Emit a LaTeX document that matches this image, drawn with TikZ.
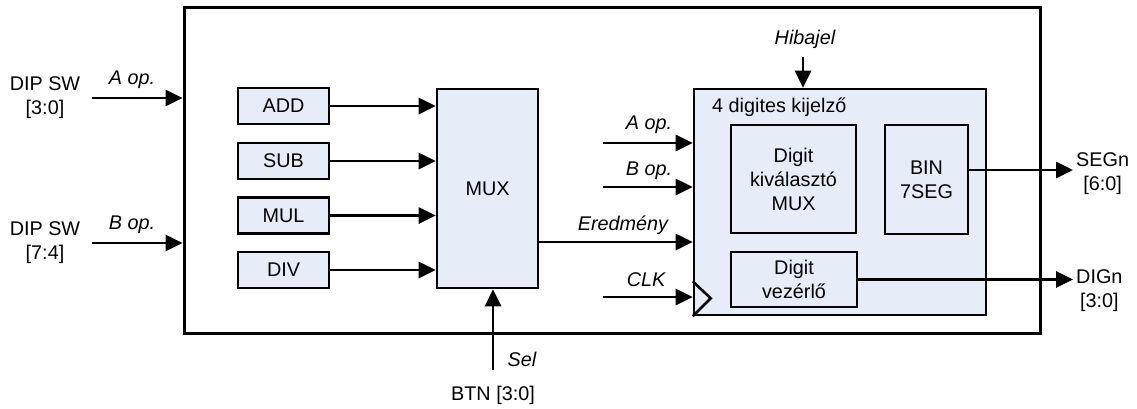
\documentclass[tikz,border=0pt]{standalone}
\usepackage{fontspec}
\setmainfont{Liberation Sans}
\usetikzlibrary{arrows.meta,calc}
\definecolor{blockfill}{RGB}{230,237,248}
\tikzset{
  blk/.style={draw=black, line width=2.6pt, fill=blockfill, inner sep=0pt, align=center, font=\fontsize{19.8}{24}\selectfont},
  txt/.style={inner sep=0pt, align=center, font=\fontsize{19.8}{24}\selectfont},
  itxt/.style={inner sep=0pt, align=center, font=\fontsize{19.8}{24}\selectfont\itshape},
  arr/.style={line width=2.8pt, -{Triangle[length=17pt,width=16pt]}},
}
\begin{document}
\begin{tikzpicture}[x=1pt,y=-1pt]
\useasboundingbox (0,0) rectangle (1137,408);
% outer box
\node[draw=black, line width=3pt, minimum width=856pt, minimum height=326pt, inner sep=0pt] (outer) at (612,170) {};
% left blocks
\node[blk, minimum width=91pt, minimum height=36pt] (add) at (283.5,106) {ADD};
\node[blk, minimum width=91pt, minimum height=36pt] (sub) at (283.5,161) {SUB};
\node[blk, minimum width=91pt, minimum height=36pt] (mul) at (283.5,215.5) {MUL};
\node[blk, minimum width=91pt, minimum height=36pt] (div) at (283.5,270) {DIV};
\node[blk, minimum width=101pt, minimum height=199pt] (mux) at (487.5,188.5) {MUX};
\draw[arr] (add.east) -- (add.east -| mux.west);
\draw[arr] (sub.east) -- (sub.east -| mux.west);
\draw[arr] (mul.east) -- (mul.east -| mux.west);
\draw[arr] (div.east) -- (div.east -| mux.west);
% display block
\node[blk, minimum width=292pt, minimum height=226pt] (disp) at (840,202) {};
\node[txt, anchor=west] (disptitle) at (712,107) {4 digites kijelző};
\node[blk, minimum width=125pt, minimum height=108pt] (dmux) at (793.5,179) {Digit\\kiválasztó\\MUX};
\node[blk, minimum width=83pt, minimum height=109pt] (bin) at (926.5,179.5) {BIN\\7SEG};
\node[blk, minimum width=126pt, minimum height=55pt] (vez) at (794,279.5) {Digit\\vezérlő};
\draw[line width=2.6pt, line join=miter] (disp.south west) ++(0,-35) -- ++(18,17) -- ++(-18,18);
% left inputs
\node[txt] (dipa) at (45,98) {DIP SW\\{}[3:0]};
\node[txt] (dipb) at (45,243) {DIP SW\\{}[7:4]};
\coordinate (ina) at (92,98);
\coordinate (inb) at (92,243);
\draw[arr] (ina) -- (ina -| outer.west);
\draw[arr] (inb) -- (inb -| outer.west);
\node[itxt] (aopl) at (132,80) {A op.};
\node[itxt] (bopl) at (132,225) {B op.};
% display inputs
\coordinate (da) at (603,143);
\coordinate (db) at (603,187);
\coordinate (dclk) at (603,297);
\draw[arr] (da) -- (da -| disp.west);
\draw[arr] (db) -- (db -| disp.west);
\draw[arr] (dclk) -- (dclk -| disp.west);
\coordinate (der) at (0,242);
\draw[arr] (der -| mux.east) -- (der -| disp.west);
\node[itxt] (daop) at (649,125) {A op.};
\node[itxt] (dbop) at (649,171) {B op.};
\node[itxt] (derl) at (623,225) {Eredmény};
\node[itxt] (dclkl) at (646,280) {CLK};
% Hibajel
\coordinate (hib) at (803,57);
\draw[arr] (hib) -- (hib |- disp.north);
\node[itxt] (hibl) at (805,39) {Hibajel};
% Sel
\coordinate (sel) at (493,370);
\draw[arr] (sel) -- (sel |- mux.south);
\node[itxt] (sell) at (522,359) {Sel};
\node[txt] (btn) at (493,395) {BTN [3:0]};
% outputs
\coordinate (segend) at (1073,170);
\coordinate (digend) at (1073,279.5);
\draw[arr] (segend -| bin.east) -- (segend);
\draw[arr] (vez.east) -- (digend);
\node[txt, anchor=west] (segl) at (1076,174) {SEGn\\{}[6:0]};
\node[txt, anchor=west] (digl) at (1076,291) {DIGn\\{}[3:0]};
\end{tikzpicture}
\end{document}
